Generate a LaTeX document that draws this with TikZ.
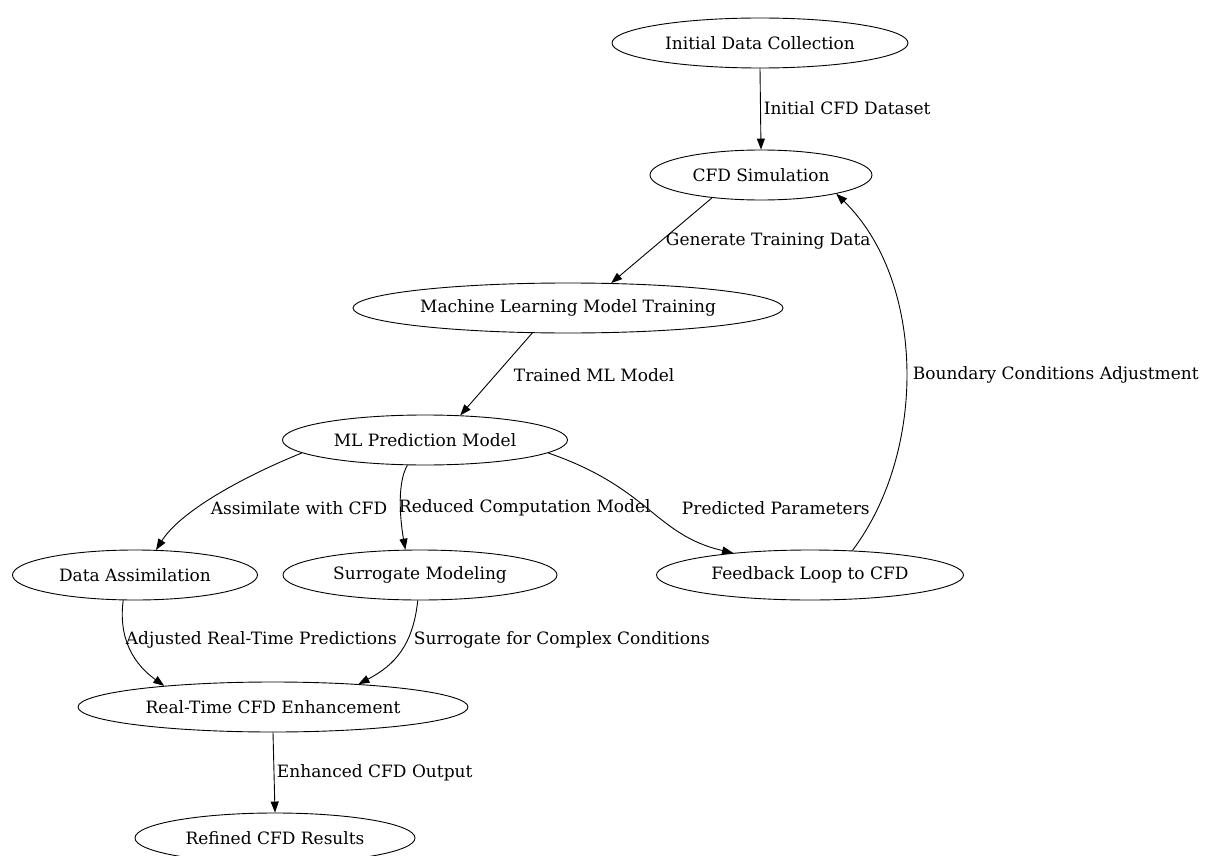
\documentclass[tikz,border=0pt]{standalone}
\usepackage{fontspec}
\setmainfont{DejaVu Serif}
\usetikzlibrary{shapes.geometric,arrows.meta}

\tikzset{
  stage/.style={draw, ellipse, line width=0.9pt, inner sep=0pt, minimum height=50, font=\fontsize{17}{19}\selectfont},
  lbl/.style={anchor=west, inner sep=0.75pt, font=\fontsize{17}{19}\selectfont},
  flow/.style={line width=0.9pt, -{Triangle[length=11pt,width=8pt]}}
}

\begin{document}
\begin{tikzpicture}[x=1pt,y=1pt,yscale=-1,xscale=1]
\useasboundingbox (0,0) rectangle (1210,856);

% Stages
\node [stage, minimum width=296] (init)  at (760,43)  {Initial Data Collection};
\node [stage, minimum width=222] (cfd)   at (761,175) {CFD Simulation};
\node [stage, minimum width=430] (train) at (568,308) {Machine Learning Model Training};
\node [stage, minimum width=285] (pred)  at (425,440) {ML Prediction Model};
\node [stage, minimum width=245] (assim) at (135,575) {Data Assimilation};
\node [stage, minimum width=274] (surr)  at (420,575) {Surrogate Modeling};
\node [stage, minimum width=307] (feed)  at (810,575) {Feedback Loop to CFD};
\node [stage, minimum width=390] (rt)    at (273,707) {Real-Time CFD Enhancement};
\node [stage, minimum width=280] (ref)   at (275,838) {Refined CFD Results};

% Edges
\draw [flow] (init.south) -- (cfd.north);
\draw [flow] (cfd.205) -- (train.30);
\draw [flow] (train.215) -- (pred.35);
\draw [flow] (pred.186) .. controls (240,478) and (180,512) .. (assim.50);
\draw [flow] (pred.235) .. controls (396,485) and (401,525) .. (surr.120);
\draw [flow] (pred.-6) .. controls (650,488) and (655,535) .. (feed.164);
\draw [flow] (feed.30) .. controls (928,450) and (925,280) .. (cfd.-14);
\draw [flow] (assim.245) .. controls (118,640) and (135,665) .. (rt.169);
\draw [flow] (surr.265) .. controls (413,645) and (395,665) .. (rt.15);
\draw [flow] (rt.south) -- (ref.north);

% Edge labels
\node [lbl] (lDataset)  at (763,108) {Initial CFD Dataset};
\node [lbl] (lGenerate) at (665,241) {Generate Training Data};
\node [lbl] (lTrained)  at (513,375) {Trained ML Model};
\node [lbl] (lBoundary) at (912,375) {Boundary Conditions Adjustment};
\node [lbl] (lAssim)    at (210,508) {Assimilate with CFD};
\node [lbl] (lReduced)  at (398,508) {Reduced Computation Model};
\node [lbl] (lPredict)  at (681,508) {Predicted Parameters};
\node [lbl] (lAdjusted) at (125,640) {Adjusted Real-Time Predictions};
\node [lbl] (lSurr)     at (413,640) {Surrogate for Complex Conditions};
\node [lbl] (lEnhanced) at (276,773) {Enhanced CFD Output};

\end{tikzpicture}
\end{document}
